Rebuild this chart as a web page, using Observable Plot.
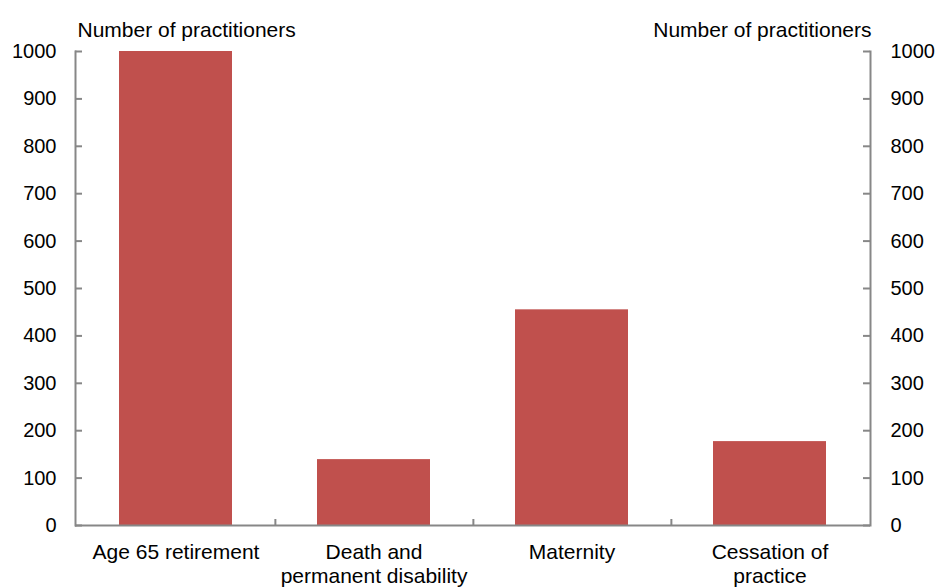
<!DOCTYPE html>
<html>
<head>
<meta charset="utf-8">
<script src="https://cdn.jsdelivr.net/npm/d3@7"></script>
<script src="https://cdn.jsdelivr.net/npm/@observablehq/plot@0.6"></script>
<style>
  html, body { margin: 0; padding: 0; background: #ffffff; }
  #chart svg { display: block; font-family: "Liberation Sans", Arial, sans-serif; }
</style>
</head>
<body>
<div id="chart"></div>
<script>
// Practitioners by reason for leaving
const categories = ["Age 65 retirement", "Death and permanent disability", "Maternity", "Cessation of practice"];
const categoryLabels = ["Age 65 retirement", "Death and\npermanent disability", "Maternity", "Cessation of\npractice"];
const practitioners = [1000, 139, 455, 177];
const yTicks = [0, 100, 200, 300, 400, 500, 600, 700, 800, 900, 1000];
const axisTitle = "Number of practitioners";

const data = categories.map((c, i) => ({category: c, value: practitioners[i]}));
const labelOf = new Map(categories.map((c, i) => [c, categoryLabels[i]]));

const W = 938, H = 587;
const mL = 75, mR = 68, mT = 51, mB = 62;
const plotW = W - mL - mR;
const plotH = H - mT - mB;
const step = plotW / categories.length;
const axisColor = "#878787";
const tickLen = 7;

const chart = Plot.plot({
  width: W,
  height: H,
  marginLeft: mL,
  marginRight: mR,
  marginTop: mT,
  marginBottom: mB,
  style: {fontFamily: "'Liberation Sans', Arial, sans-serif", color: "#000", background: "#fff"},
  x: {domain: categories, paddingInner: 0.43, paddingOuter: 0.215},
  y: {domain: [0, 1000]},
  marks: [
    Plot.barY(data, {x: "category", y: "value", fill: "#C0504D"}),
    // axis lines
    Plot.frame({anchor: "left", stroke: axisColor, strokeWidth: 2}),
    Plot.frame({anchor: "right", stroke: axisColor, strokeWidth: 2}),
    Plot.ruleY([0], {stroke: axisColor, strokeWidth: 2}),
    // inward ticks on both value axes
    Plot.ruleY(yTicks, {y: d => d, insetRight: plotW - tickLen, stroke: axisColor, strokeWidth: 2}),
    Plot.ruleY(yTicks, {y: d => d, insetLeft: plotW - tickLen, stroke: axisColor, strokeWidth: 2}),
    // category separators on the baseline
    Plot.ruleX(categories.slice(0, -1), {x: d => d, dx: step / 2, insetTop: plotH - 6, stroke: axisColor, strokeWidth: 2}),
    Plot.axisY({anchor: "left", ticks: yTicks, tickFormat: d => String(d), tickSize: 0, tickPadding: 19, fontSize: 20, label: null}),
    Plot.axisY({anchor: "right", ticks: yTicks, tickFormat: d => String(d), tickSize: 0, tickPadding: 20, fontSize: 20, label: null}),
    Plot.axisX({anchor: "bottom", tickSize: 0, tickPadding: 16, fontSize: 21, lineHeight: 1.15, label: null,
      tickFormat: d => labelOf.get(d)}),
    Plot.text([axisTitle], {frameAnchor: "top-left", textAnchor: "start", dx: 2, dy: -29, fontSize: 21, fill: "#000"}),
    Plot.text([axisTitle], {frameAnchor: "top-right", textAnchor: "end", dx: 1, dy: -29, fontSize: 21, fill: "#000"})
  ]
});

document.getElementById("chart").appendChild(chart);
</script>
</body>
</html>
